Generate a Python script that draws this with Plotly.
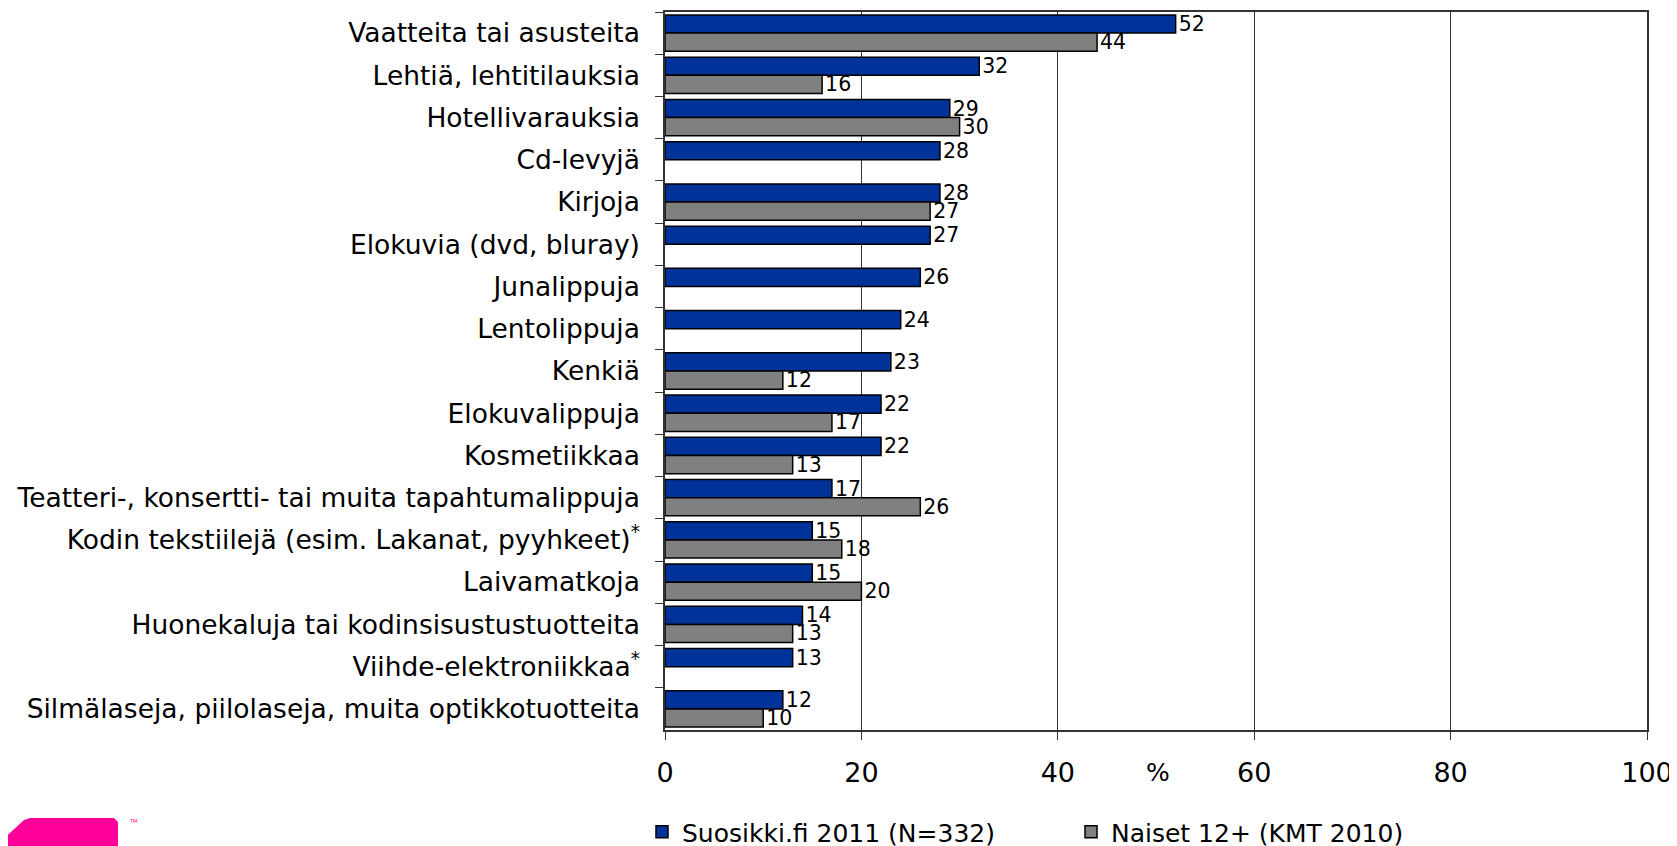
import plotly.graph_objects as go

categories = [
    "Vaatteita tai asusteita",
    "Lehtiä, lehtitilauksia",
    "Hotellivarauksia",
    "Cd-levyjä",
    "Kirjoja",
    "Elokuvia (dvd, bluray)",
    "Junalippuja",
    "Lentolippuja",
    "Kenkiä",
    "Elokuvalippuja",
    "Kosmetiikkaa",
    "Teatteri-, konsertti- tai muita tapahtumalippuja",
    "Kodin tekstiilejä (esim. Lakanat, pyyhkeet)<sup>*</sup>",
    "Laivamatkoja",
    "Huonekaluja tai kodinsisustustuotteita",
    "Viihde-elektroniikkaa<sup>*</sup>",
    "Silmälaseja, piilolaseja, muita optikkotuotteita",
]
suosikki = [52, 32, 29, 28, 28, 27, 26, 24, 23, 22, 22, 17, 15, 15, 14, 13, 12]
naiset = [44, 16, 30, None, 27, None, None, None, 12, 17, 13, 26, 18, 20, 13, None, 10]

W, H = 1677, 846
OFF = 8  # the page body margin shifts the figure by this much
L, R, T, B = 665 - OFF, 30 + OFF, 12 - OFF, 116 + OFF
FONT = "DejaVu Sans"

fig = go.Figure()
fig.add_trace(go.Bar(
    y=categories, x=suosikki, orientation="h", name="Suosikki.fi 2011 (N=332)",
    marker=dict(color="#003399", line=dict(color="black", width=1.5)),
    text=suosikki, textposition="outside", cliponaxis=False, constraintext="none",
    textfont=dict(family=FONT, size=20.5, color="black"),
))
fig.add_trace(go.Bar(
    y=categories, x=naiset, orientation="h", name="Naiset 12+ (KMT 2010)",
    marker=dict(color="#808080", line=dict(color="black", width=1.5)),
    text=[v if v is not None else "" for v in naiset], textposition="outside",
    cliponaxis=False, constraintext="none",
    textfont=dict(family=FONT, size=20.5, color="black"),
))

pw, ph = W - L - R, H - T - B


def px(x, y):
    # screen pixel -> paper coords
    return (x - OFF - L) / pw, (H - B - (y - OFF)) / ph


# logo fragment in the bottom-left corner
pts = [(0, 860), (0, 842), (24, 820), (30, 818), (114, 818), (118, 822), (118, 860)]
path = "M " + " L ".join(f"{px(a, b)[0]},{px(a, b)[1]}" for a, b in pts) + " Z"

fig.update_layout(
    width=W, height=H,
    margin=dict(l=L, r=R, t=T, b=B, autoexpand=False),
    plot_bgcolor="white", paper_bgcolor="white",
    barmode="group", bargap=0.14, bargroupgap=0,
    font=dict(family=FONT, size=22, color="black"),
    xaxis=dict(range=[0, 100], dtick=20, showgrid=True, gridcolor="#333", gridwidth=1,
               showline=True, linecolor="#333", linewidth=1.5, mirror=True,
               ticks="outside", ticklen=8, tickcolor="#333", automargin=False,
               tickfont=dict(size=27), zeroline=False, ticklabelstandoff=10),
    yaxis=dict(autorange="reversed", showline=True, linecolor="#333", linewidth=1.5, mirror=True,
               ticks="outside", ticklen=8, tickcolor="#333", tickson="boundaries",
               automargin=False, tickfont=dict(size=26.5), ticklabelstandoff=18),
    legend=dict(orientation="h", x=px(642, 0)[0], y=px(0, 832)[1], yanchor="middle",
                xanchor="left", font=dict(size=25), entrywidth=384, entrywidthmode="pixels",
                itemwidth=30, traceorder="normal"),
    shapes=[dict(type="path", path=path, xref="paper", yref="paper",
                 fillcolor="#ff0099", line=dict(width=0), layer="above")],
    annotations=[
        dict(text="%", x=px(1158, 0)[0], y=px(0, 772)[1], xref="paper", yref="paper",
             showarrow=False, font=dict(size=25), yanchor="middle"),
        dict(text="TM", x=px(127, 0)[0], y=px(0, 821)[1], xref="paper", yref="paper",
             showarrow=False, font=dict(size=5, color="#ff0099"), yanchor="middle"),
    ],
)

fig.write_html("out.html")
